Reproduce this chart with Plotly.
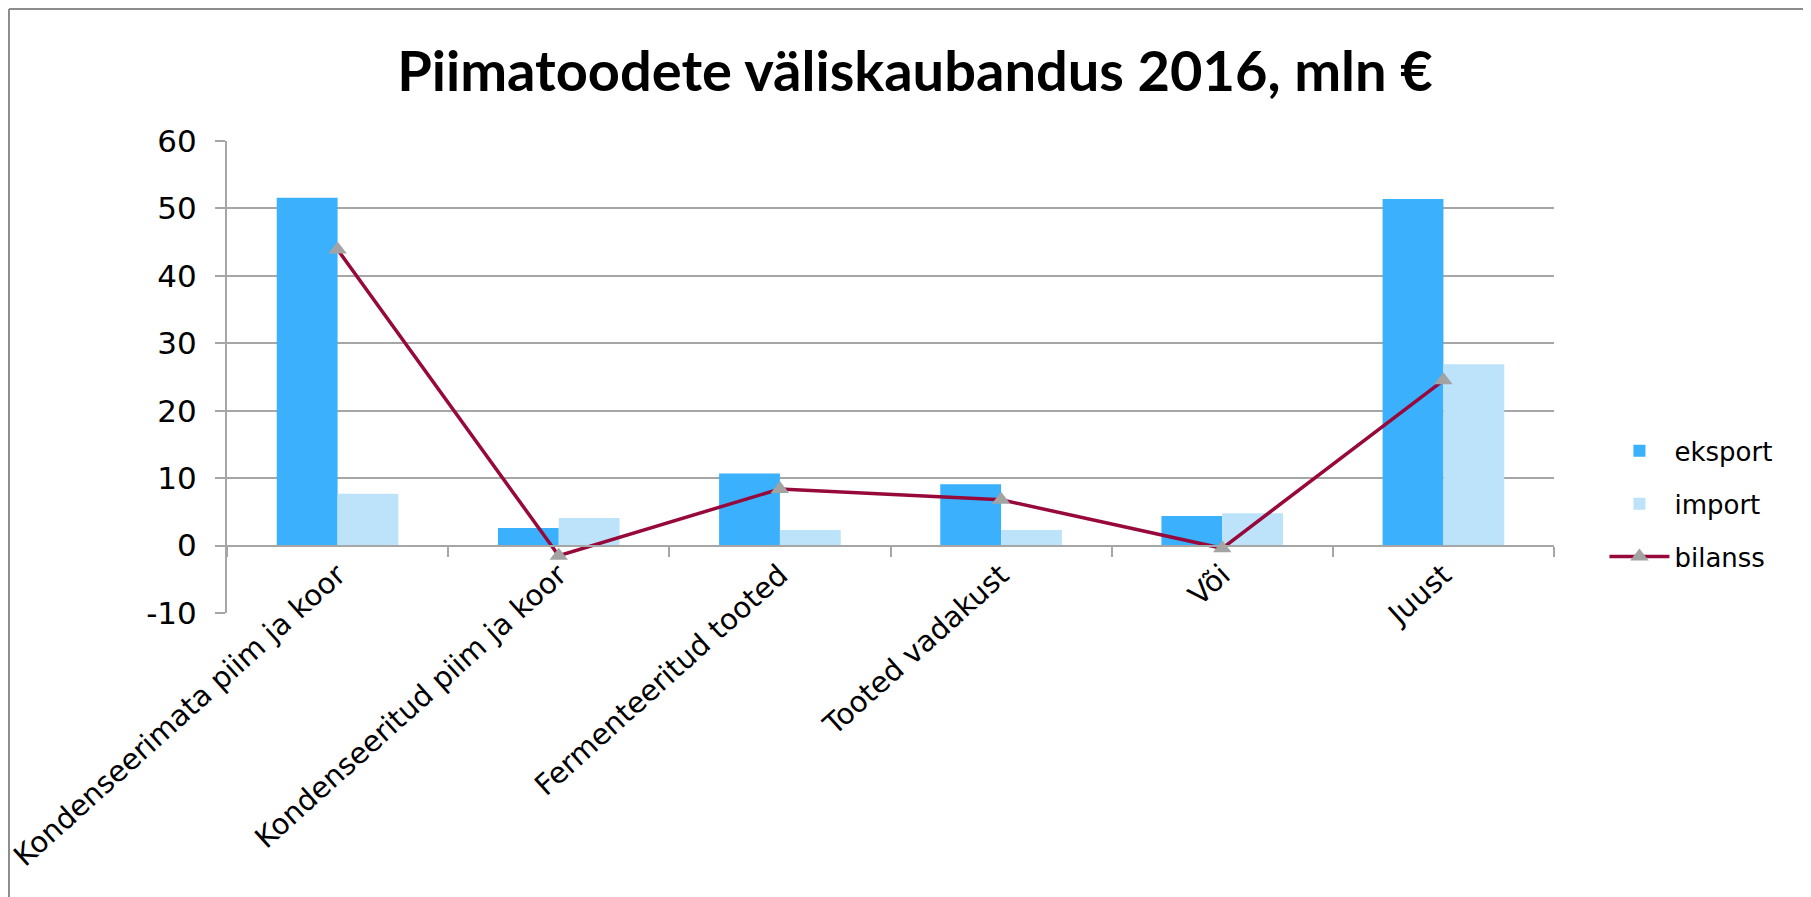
import plotly.graph_objects as go

categories = ['Kondenseerimata piim ja koor', 'Kondenseeritud piim ja koor',
              'Fermenteeritud tooted', 'Tooted vadakust', 'Või', 'Juust']
eksport = [51.6, 2.6, 10.7, 9.1, 4.4, 51.4]
import_ = [7.7, 4.1, 2.3, 2.3, 4.8, 26.9]
bilanss = [43.9, -1.5, 8.4, 6.8, -0.4, 24.5]

y_ticks = [-10, 0, 10, 20, 30, 40, 50, 60]
y_labels = [str(v) for v in y_ticks]

GRID = '#a6a6a6'
FONT = 'DejaVu Sans'

fig = go.Figure()

fig.add_trace(go.Bar(x=categories, y=eksport, name='eksport',
                     marker=dict(color='#3bb0fd', line_width=0),
                     legendgroup='a'))
fig.add_trace(go.Bar(x=categories, y=import_, name='import',
                     marker=dict(color='#bde3fb', line_width=0),
                     legendgroup='b'))
fig.add_trace(go.Scatter(x=categories, y=bilanss, name='bilanss', xaxis='x2',
                         mode='lines+markers',
                         line=dict(color='#98093b', width=3.5),
                         marker=dict(symbol='triangle-up', size=16, color='#a3a3a3'),
                         legendgroup='c'))

# the page body adds an 8px margin, so the figure is 8px smaller each way
fig.update_layout(
    width=1803, height=889,
    plot_bgcolor='white',
    paper_bgcolor='white',
    font=dict(family=FONT, size=28, color='black'),
    title=dict(text='<b>Piimatoodete väliskaubandus 2016, mln €</b>',
               font=dict(family='Lato', size=56, color='black'),
               xref='container', x=0.503, xanchor='center',
               yref='container', y=0.929, yanchor='middle'),
    barmode='group',
    bargap=0.45,
    bargroupgap=0,
    margin=dict(l=219, r=257, t=133, b=284, autoexpand=False),
    showlegend=True,
    legend=dict(x=1.038, xanchor='left', y=0.231, yanchor='middle',
                font=dict(size=26), traceorder='grouped', tracegroupgap=16,
                itemwidth=60),
    xaxis=dict(
        type='category', range=[-0.5, 5.5],
        showgrid=False, ticks='', showticklabels=False,
        showline=False, automargin=False,
    ),
    xaxis2=dict(
        type='category', range=[-0.5, 5.5], overlaying='x', matches='x',
        anchor='free', position=10 / 70,
        showline=True, linecolor=GRID, linewidth=2,
        ticks='outside', tickson='boundaries', ticklen=10, tickcolor=GRID, tickwidth=2,
        showticklabels=True, tickangle=-42, tickfont=dict(size=29),
        showgrid=False, automargin=False,
    ),
    yaxis=dict(
        range=[-10, 60], tickvals=y_ticks, ticktext=y_labels,
        showgrid=True, gridcolor=GRID, gridwidth=2,
        zeroline=False,
        showline=True, linecolor=GRID, linewidth=2,
        ticks='outside', ticklen=10, tickcolor=GRID, tickwidth=2,
        tickfont=dict(size=31), ticklabelstandoff=12, automargin=False,
    ),
)

# chart frame (top and left edges visible in the source screenshot)
fig.add_shape(type='line', xref='paper', yref='paper',
              x0=-0.1643, x1=1.5, y0=1.2797, y1=1.2797,
              line=dict(color='#8c8c8c', width=2))
fig.add_shape(type='line', xref='paper', yref='paper',
              x0=-0.1643, x1=-0.1643, y0=1.2797, y1=-1,
              line=dict(color='#8c8c8c', width=2))

fig.write_html("out.html")
